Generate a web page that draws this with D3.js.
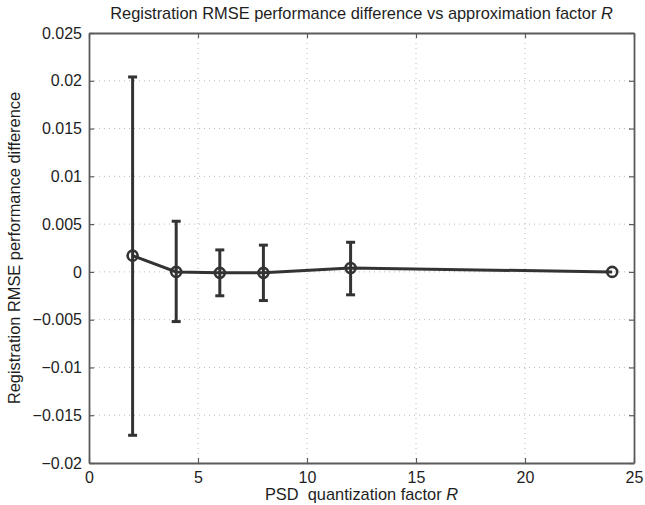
<!DOCTYPE html>
<html>
<head>
<meta charset="utf-8">
<script src="https://cdn.jsdelivr.net/npm/d3@7"></script>
<style>
  html, body { margin: 0; padding: 0; background: #fff; }
  svg { display: block; font-family: "Liberation Sans", Arial, Helvetica, sans-serif; }
</style>
</head>
<body>
<svg id="chart" width="645" height="505"></svg>
<script>
// Quantization factors and mean RMSE difference with error bar limits
const factors = [2, 4, 6, 8, 12, 24];
const meanDiff = [0.0017, 0.0000, -0.0001, -0.0001, 0.0004, 0.0000];
const upperErr = [0.0204, 0.0053, 0.0023, 0.0028, 0.0031, 0.0000];
const lowerErr = [-0.0171, -0.0052, -0.0025, -0.0030, -0.0024, 0.0000];

const xTicks = [0, 5, 10, 15, 20, 25];
const yTicks = [-0.02, -0.015, -0.01, -0.005, 0, 0.005, 0.01, 0.015, 0.02, 0.025];
const yTickLabels = ["\u22120.02", "\u22120.015", "\u22120.01", "\u22120.005", "0", "0.005", "0.01", "0.015", "0.02", "0.025"];

const svg = d3.select("#chart");
const margin = { left: 89, right: 11, top: 33, bottom: 42 };
const W = 645, H = 505;
const x = d3.scaleLinear().domain([0, 25]).range([margin.left, W - margin.right]);
const y = d3.scaleLinear().domain([-0.02, 0.025]).range([H - margin.bottom, margin.top]);

const axisColor = "#5a5a5a";
const ink = "#333";
const textColor = "#1e1e1e";

// dotted grid
const grid = svg.append("g");
grid.selectAll("line.gx").data(xTicks.slice(1, -1)).join("line")
  .attr("x1", d => x(d)).attr("x2", d => x(d))
  .attr("y1", y(0.025)).attr("y2", y(-0.02))
  .attr("stroke", "#b8b8b8").attr("stroke-width", 1).attr("stroke-dasharray", "1,4");
grid.selectAll("line.gy").data(yTicks.slice(1, -1)).join("line")
  .attr("x1", x(0)).attr("x2", x(25))
  .attr("y1", d => y(d)).attr("y2", d => y(d))
  .attr("stroke", "#b8b8b8").attr("stroke-width", 1).attr("stroke-dasharray", "1,4");

// axes with inward ticks on all four sides
const fmtY = d => yTickLabels[yTicks.indexOf(d)];
const axBottom = svg.append("g").attr("transform", `translate(0,${y(-0.02)})`)
  .call(d3.axisBottom(x).tickValues(xTicks).tickSizeInner(-5).tickSizeOuter(0).tickPadding(9));
const axTop = svg.append("g").attr("transform", `translate(0,${y(0.025)})`)
  .call(d3.axisTop(x).tickValues(xTicks).tickSizeInner(-5).tickSizeOuter(0).tickFormat(""));
const axLeft = svg.append("g").attr("transform", `translate(${x(0)},0)`)
  .call(d3.axisLeft(y).tickValues(yTicks).tickSizeInner(-5).tickSizeOuter(0).tickPadding(7).tickFormat(fmtY));
const axRight = svg.append("g").attr("transform", `translate(${x(25)},0)`)
  .call(d3.axisRight(y).tickValues(yTicks).tickSizeInner(-5).tickSizeOuter(0).tickFormat(""));

[axBottom, axTop, axLeft, axRight].forEach(g => {
  g.select(".domain").attr("stroke", axisColor).attr("stroke-width", 1.8);
  g.selectAll(".tick line").attr("stroke", axisColor).attr("stroke-width", 1.2);
  g.selectAll(".tick text").attr("fill", textColor).style("font-size", "16px")
    .style("font-family", '"Liberation Sans", Arial, sans-serif');
});

// error bars
const data = factors.map((f, i) => ({ f, m: meanDiff[i], hi: upperErr[i], lo: lowerErr[i] }));
const eb = svg.append("g");
const withBars = data.filter(d => d.hi !== d.lo);
const capHalf = 4.5;
eb.selectAll("line.v").data(withBars).join("line")
  .attr("x1", d => x(d.f)).attr("x2", d => x(d.f))
  .attr("y1", d => y(d.hi)).attr("y2", d => y(d.lo))
  .attr("stroke", ink).attr("stroke-width", 3);
eb.selectAll("line.cap-hi").data(withBars).join("line")
  .attr("x1", d => x(d.f) - capHalf).attr("x2", d => x(d.f) + capHalf)
  .attr("y1", d => y(d.hi)).attr("y2", d => y(d.hi))
  .attr("stroke", ink).attr("stroke-width", 3);
eb.selectAll("line.cap-lo").data(withBars).join("line")
  .attr("x1", d => x(d.f) - capHalf).attr("x2", d => x(d.f) + capHalf)
  .attr("y1", d => y(d.lo)).attr("y2", d => y(d.lo))
  .attr("stroke", ink).attr("stroke-width", 3);

// mean line
svg.append("path").datum(data)
  .attr("fill", "none").attr("stroke", ink).attr("stroke-width", 3)
  .attr("d", d3.line().x(d => x(d.f)).y(d => y(d.m)));

// circle markers
svg.append("g").selectAll("circle").data(data).join("circle")
  .attr("cx", d => x(d.f)).attr("cy", d => y(d.m)).attr("r", 5)
  .attr("fill", "none").attr("stroke", ink).attr("stroke-width", 2.6);

// title and axis labels
const midX = (x(0) + x(25)) / 2;
svg.append("text").attr("x", midX).attr("y", 19)
  .attr("text-anchor", "middle").attr("fill", textColor).style("font-size", "16.4px")
  .html('Registration RMSE performance difference vs approximation factor <tspan font-style="italic">R</tspan>');
svg.append("text").attr("x", midX).attr("y", 500)
  .attr("text-anchor", "middle").attr("fill", textColor).style("font-size", "16.4px")
  .html('PSD&#160; quantization factor <tspan font-style="italic">R</tspan>');
svg.append("text")
  .attr("transform", `translate(20,${(y(0.025) + y(-0.02)) / 2}) rotate(-90)`)
  .attr("text-anchor", "middle").attr("fill", textColor).style("font-size", "16.4px")
  .text("Registration RMSE performance difference");
</script>
</body>
</html>
